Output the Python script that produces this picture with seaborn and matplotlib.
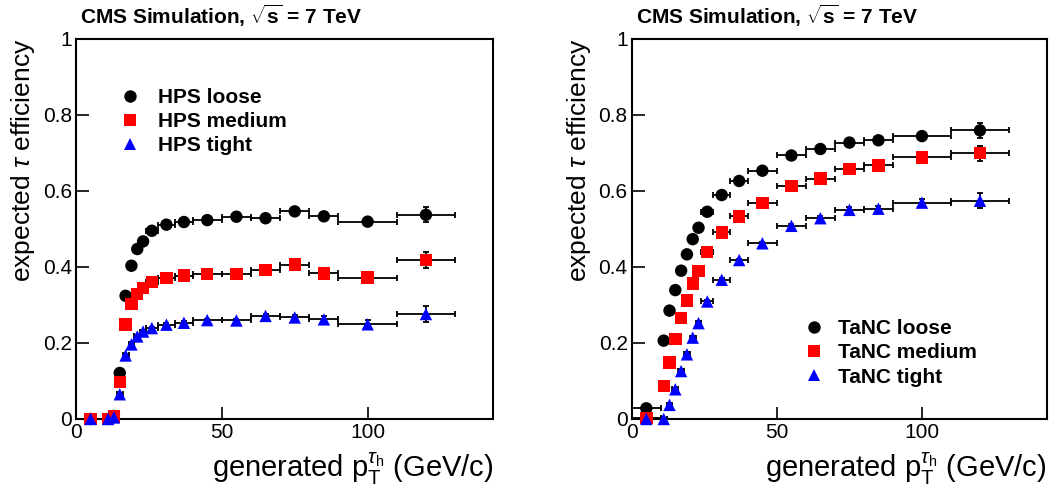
import numpy as np
import pandas as pd
import matplotlib
matplotlib.use("Agg")
import matplotlib.pyplot as plt
import seaborn as sns

# bin centres and half widths (GeV/c)
pt = [5, 11, 13, 15, 17, 19, 21, 23, 26, 31, 37, 45, 55, 65, 75, 85, 100, 120]
pt_err = [5, 1, 1, 1, 1, 1, 1, 1, 2, 3, 3, 5, 5, 5, 5, 5, 10, 10]

hps_loose = [0.0, 0.0, 0.008, 0.121, 0.324, 0.403, 0.447, 0.467, 0.495, 0.511,
             0.518, 0.523, 0.532, 0.528, 0.546, 0.533, 0.519, 0.537]
hps_medium = [0.0, 0.0, 0.006, 0.097, 0.248, 0.302, 0.328, 0.344, 0.361, 0.371,
              0.377, 0.382, 0.382, 0.392, 0.406, 0.383, 0.372, 0.418]
hps_tight = [0.0, 0.0, 0.004, 0.065, 0.167, 0.196, 0.217, 0.230, 0.239, 0.248,
             0.253, 0.260, 0.259, 0.271, 0.267, 0.262, 0.249, 0.276]

tanc_loose = [0.028, 0.206, 0.285, 0.339, 0.390, 0.433, 0.473, 0.503, 0.545, 0.589,
              0.626, 0.653, 0.693, 0.710, 0.727, 0.733, 0.744, 0.759]
tanc_medium = [0.003, 0.087, 0.148, 0.210, 0.265, 0.312, 0.356, 0.389, 0.439, 0.491,
               0.533, 0.568, 0.612, 0.632, 0.657, 0.667, 0.688, 0.699]
tanc_tight = [0.0, 0.0, 0.037, 0.078, 0.126, 0.170, 0.214, 0.252, 0.309, 0.366,
              0.418, 0.462, 0.508, 0.528, 0.550, 0.553, 0.569, 0.574]

# statistical uncertainties (vertical)
stat_err = [0.002, 0.002, 0.002, 0.004, 0.005, 0.005, 0.005, 0.005, 0.004, 0.004,
            0.004, 0.004, 0.005, 0.006, 0.007, 0.008, 0.010, 0.020]

sns.set_theme(style="ticks")
plt.rcParams["font.family"] = ["Liberation Sans", "DejaVu Sans"]
plt.rcParams["mathtext.fontset"] = "custom"
plt.rcParams["mathtext.rm"] = "Liberation Sans"
plt.rcParams["mathtext.it"] = "Liberation Sans:italic"
plt.rcParams["mathtext.bf"] = "Liberation Sans:bold"
plt.rcParams["text.color"] = "black"
plt.rcParams["axes.labelcolor"] = "black"

fig = plt.figure(figsize=(10.53, 4.97), dpi=100)
ax1 = fig.add_axes([0.0722, 0.157, 0.396, 0.765])
ax2 = fig.add_axes([0.600, 0.157, 0.394, 0.765])

styles = {"loose": ("black", "o"), "medium": ("red", "s"), "tight": ("blue", "^")}


def draw_panel(ax, algo, series):
    rows = []
    for wp, vals in series.items():
        for x, y in zip(pt, vals):
            rows.append({"pt": x, "eff": y, "wp": f"{algo} {wp}"})
    df = pd.DataFrame(rows)

    # error bars first, markers on top
    for wp, vals in series.items():
        ax.errorbar(pt, vals, xerr=pt_err, yerr=stat_err, fmt="none",
                    ecolor="black", elinewidth=1.3, capsize=2.5, capthick=1.3,
                    zorder=2)

    order = [f"{algo} {wp}" for wp in series]
    palette = {f"{algo} {wp}": styles[wp][0] for wp in series}
    markers = {f"{algo} {wp}": styles[wp][1] for wp in series}
    sns.scatterplot(data=df, x="pt", y="eff", hue="wp", style="wp",
                    hue_order=order, style_order=order, palette=palette,
                    markers=markers, s=80, linewidth=0, ax=ax, zorder=3,
                    clip_on=False)

    ax.set_xlim(0, 143)
    ax.set_ylim(0, 1)
    ax.set_xticks([0, 50, 100])
    ax.set_yticks([0, 0.2, 0.4, 0.6, 0.8, 1.0])
    ax.set_yticklabels(["0", "0.2", "0.4", "0.6", "0.8", "1"])
    ax.tick_params(direction="in", length=9, width=1.2, labelsize=15,
                   colors="black", pad=3)
    for sp in ax.spines.values():
        sp.set_linewidth(1.5)
        sp.set_color("black")
    ax.set_xlabel(r"generated $\mathrm{p}_\mathrm{T}^{\tau_\mathrm{h}}$ (GeV/c)",
                  fontsize=21, loc="right", labelpad=6)
    ax.set_ylabel(r"expected $\tau$ efficiency", fontsize=19,
                  loc="top", labelpad=4)
    ax.text(0.01, 1.025, r"CMS Simulation, $\mathbf{\sqrt{s}}$ = 7 TeV",
            transform=ax.transAxes, fontsize=15, fontweight="bold",
            ha="left", va="bottom")


draw_panel(ax1, "HPS", {"loose": hps_loose, "medium": hps_medium, "tight": hps_tight})
draw_panel(ax2, "TaNC", {"loose": tanc_loose, "medium": tanc_medium, "tight": tanc_tight})

leg1 = ax1.legend(loc="upper left", bbox_to_anchor=(0.074, 0.898), frameon=False,
                  prop={"weight": "bold", "size": 15}, handletextpad=0.75,
                  labelspacing=0.25, borderpad=0, handlelength=1.2)
leg2 = ax2.legend(loc="upper left", bbox_to_anchor=(0.385, 0.29), frameon=False,
                  prop={"weight": "bold", "size": 15}, handletextpad=0.55,
                  labelspacing=0.25, borderpad=0, handlelength=1.2)

fig.savefig("out.png", dpi=100)
